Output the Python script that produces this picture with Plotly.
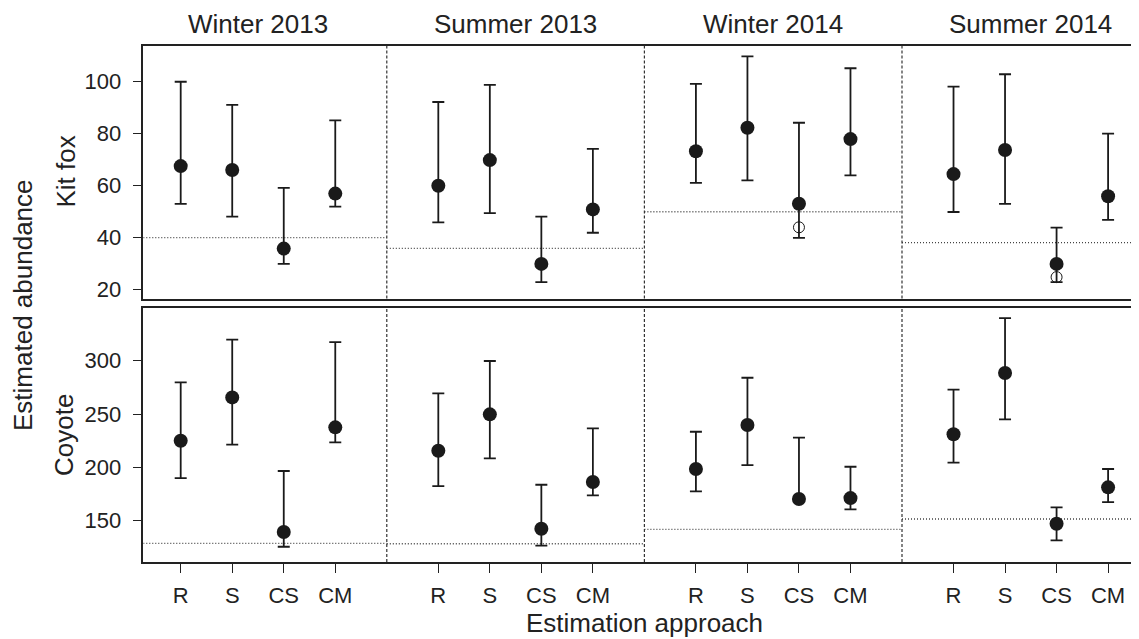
import plotly.graph_objects as go

seasons = ["Winter 2013", "Summer 2013", "Winter 2014", "Summer 2014"]
approaches = ["R", "S", "CS", "CM"]
species = ["Kit fox", "Coyote"]

# Kit fox: estimates, lower and upper limits per season (R, S, CS, CM)
kitfox_est = [[67.5, 66.0, 35.7, 56.9], [59.9, 69.8, 29.8, 50.8],
              [73.2, 82.3, 53.0, 77.9], [64.4, 73.7, 29.8, 55.9]]
kitfox_lo = [[52.9, 48.0, 29.8, 51.9], [45.8, 49.4, 22.8, 41.8],
             [61.0, 62.0, 39.8, 63.9], [49.8, 52.9, 22.8, 46.8]]
kitfox_hi = [[100.0, 91.1, 59.1, 85.1], [92.2, 98.8, 48.0, 74.1],
             [99.2, 109.8, 84.2, 105.2], [98.1, 102.9, 43.8, 80.0]]
kitfox_true = [39.9, 35.8, 49.9, 38.0]
kitfox_open_season = ["Winter 2014", "Summer 2014"]
kitfox_open_value = [43.9, 24.7]

# Coyote
coyote_est = [[225.0, 265.6, 139.4, 237.5], [215.6, 249.7, 142.5, 186.3],
              [198.5, 239.7, 170.3, 171.2], [231.0, 288.4, 147.2, 181.3]]
coyote_lo = [[190.0, 221.3, 125.6, 223.4], [182.5, 208.4, 126.6, 173.7],
             [177.5, 202.2, 169.0, 160.6], [204.4, 245.0, 131.5, 167.5]]
coyote_hi = [[279.7, 319.7, 196.6, 317.5], [269.4, 299.7, 183.7, 236.5],
             [233.4, 284.0, 227.8, 200.6], [272.8, 340.0, 162.5, 198.5]]
coyote_true = [128.8, 128.4, 141.9, 151.6]

# page body has an 8px margin: work in screen pixels and shift
OFF = 8
W, H = 1139 - OFF, 639 - OFF

def px(x):
    return (x - OFF) / W

def py(y):
    return 1 - (y - OFF) / H

INK = "#1a1a1a"
TXT = "#222"
FONT = "Liberation Sans, Arial, sans-serif"

X_LEFT, X_RIGHT = 0.274, 19.6
bounds = [X_LEFT, 5, 10, 15, X_RIGHT]

def pos(s, c):
    return s * 5 + c + 1

fig = go.Figure()

rows = [
    (kitfox_est, kitfox_lo, kitfox_hi, kitfox_true, "x", "y"),
    (coyote_est, coyote_lo, coyote_hi, coyote_true, "x2", "y2"),
]

shapes = []
for est, lo, hi, true, xa, ya in rows:
    xs, ys, up, dn = [], [], [], []
    for s in range(len(seasons)):
        for c in range(len(approaches)):
            xs.append(pos(s, c))
            ys.append(est[s][c])
            up.append(hi[s][c] - est[s][c])
            dn.append(est[s][c] - lo[s][c])
    fig.add_trace(go.Scatter(
        x=xs, y=ys, mode="markers", xaxis=xa, yaxis=ya,
        marker=dict(size=14, color=INK),
        error_y=dict(type="data", symmetric=False, array=up, arrayminus=dn,
                     color=INK, thickness=1.8, width=6),
        showlegend=False, hoverinfo="skip"))
    for s in range(len(seasons)):
        shapes.append(dict(type="line", xref=xa, yref=ya,
                           x0=bounds[s], x1=bounds[s + 1], y0=true[s], y1=true[s],
                           line=dict(color="#444", width=1.3, dash="1px,2px"), layer="below"))
    for b in bounds[1:4]:
        shapes.append(dict(type="line", xref=xa, yref=ya + " domain",
                           x0=b, x1=b, y0=0, y1=1,
                           line=dict(color="#333", width=1.2, dash="3px,2px")))

# open circles (kit fox CS)
fig.add_trace(go.Scatter(
    x=[pos(seasons.index(s), approaches.index("CS")) for s in kitfox_open_season],
    y=kitfox_open_value, mode="markers", xaxis="x", yaxis="y",
    marker=dict(size=11, color="rgba(0,0,0,0)", line=dict(color=INK, width=1)),
    showlegend=False, hoverinfo="skip"))

xdom = [px(143.3), 1.0]
ytop = [py(298.5), py(45.7)]
ybot = [py(562), py(308)]

tickvals = [pos(s, c) for s in range(len(seasons)) for c in range(len(approaches))]
ticktext = [a for s in seasons for a in approaches]

axis_common = dict(showline=True, linecolor="#222", linewidth=1.5, showgrid=False,
                   zeroline=False, tickcolor="#222", tickwidth=1.2,
                   tickfont=dict(family=FONT, size=22, color=TXT))

fig.update_layout(
    width=W, height=H, template="none",
    margin=dict(l=0, r=0, t=0, b=0),
    paper_bgcolor="white", plot_bgcolor="white",
    xaxis=dict(domain=xdom, anchor="y", range=[X_LEFT, X_RIGHT], mirror=True,
               showticklabels=False, ticks="", **axis_common),
    yaxis=dict(domain=ytop, anchor="x", range=[16.46, 113.9],
               tickvals=[20, 40, 60, 80, 100], ticks="outside", ticklen=9,
               ticklabelstandoff=7, **axis_common),
    xaxis2=dict(domain=xdom, anchor="y2", range=[X_LEFT, X_RIGHT], mirror=True,
                tickvals=tickvals, ticktext=ticktext, ticks="outside", ticklen=9,
                ticklabelstandoff=4, **axis_common),
    yaxis2=dict(domain=ybot, anchor="x2", range=[111.3, 349.4],
                tickvals=[150, 200, 250, 300], ticks="outside", ticklen=9,
                ticklabelstandoff=7, **axis_common),
    shapes=shapes,
)

ann = []
for s_i, s in enumerate(seasons):
    cx = (pos(s_i, 0) + pos(s_i, len(approaches) - 1)) / 2
    ann.append(dict(text=s, x=cx, xref="x", y=py(24), yref="paper",
                    xanchor="center", yanchor="middle", showarrow=False,
                    font=dict(family=FONT, size=26, color=TXT)))
ann.append(dict(text="Estimation approach", x=px(644.7), xref="paper", y=py(622.5),
                yref="paper", xanchor="center", yanchor="middle", showarrow=False,
                font=dict(family=FONT, size=26, color=TXT)))
ann.append(dict(text="Estimated abundance", x=px(23), xref="paper", y=py(305),
                yref="paper", xanchor="center", yanchor="middle", showarrow=False,
                textangle=-90, font=dict(family=FONT, size=26, color=TXT)))
ann.append(dict(text=species[0], x=px(66.5), xref="paper", y=(ytop[0] + ytop[1]) / 2,
                yref="paper", xanchor="center", yanchor="middle", showarrow=False,
                textangle=-90, font=dict(family=FONT, size=26, color=TXT)))
ann.append(dict(text=species[1], x=px(64), xref="paper", y=(ybot[0] + ybot[1]) / 2,
                yref="paper", xanchor="center", yanchor="middle", showarrow=False,
                textangle=-90, font=dict(family=FONT, size=26, color=TXT)))
fig.update_layout(annotations=ann)

fig.write_html("out.html")
